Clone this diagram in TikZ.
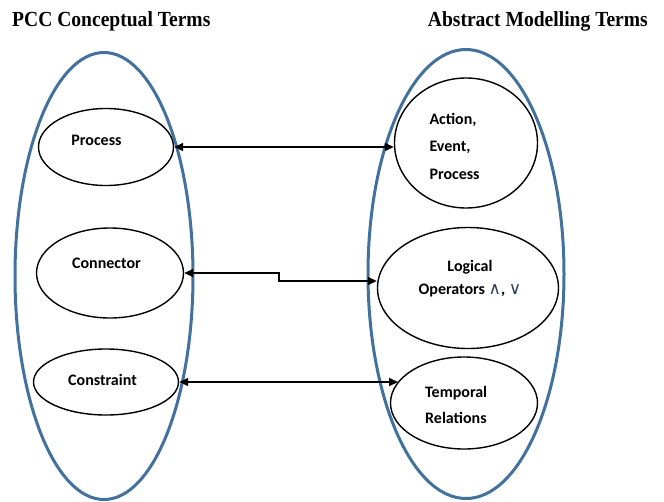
\documentclass[tikz,border=0pt]{standalone}
\usepackage{fontspec}
\usepackage{graphicx}
\setmainfont{Liberation Serif}
\newfontfamily\carlitofont{Carlito}
\newfontfamily\dejavufont{DejaVu Sans}
\usetikzlibrary{shapes.geometric,arrows.meta}
\definecolor{bigblue}{HTML}{41719C}
\definecolor{opblue}{HTML}{2E3D5C}
\newcommand{\optext}[1]{{\dejavufont\mdseries\fontsize{17}{23}\selectfont\color{opblue}#1}}
\tikzset{
  bigell/.style={draw=bigblue,line width=3pt,ellipse,inner sep=0pt},
  smallell/.style={draw=black,line width=1.4pt,ellipse,inner sep=0pt},
  title/.style={font=\fontsize{21.5}{24}\selectfont\bfseries,inner sep=0pt},
  txt/.style={font=\carlitofont\fontsize{16}{19}\selectfont\bfseries,inner sep=0pt},
  link/.style={line width=1.5pt,{Triangle[length=9pt,width=8pt]}-{Triangle[length=9pt,width=8pt]}}
}
\begin{document}
\begin{tikzpicture}[x=1pt,y=-1pt]
\useasboundingbox (0,0) rectangle (664,501);
% titles
\node[title,anchor=base west] (t1) at (12,26) {\scalebox{0.91}[1]{PCC Conceptual Terms}};
\node[title,anchor=base east] (t2) at (648,26) {\scalebox{0.91}[1]{Abstract Modelling Terms}};
% big ellipses
\node[bigell,minimum width=178pt,minimum height=447pt] (L) at (104,276) {};
\node[bigell,minimum width=196pt,minimum height=449pt] (R) at (466,274) {};
% left small ellipses
\node[smallell,minimum width=135pt,minimum height=77pt] (pe) at (106,147) {};
\node[smallell,minimum width=147pt,minimum height=90pt] (ce) at (110,273) {};
\node[smallell,minimum width=145pt,minimum height=66pt] (ke) at (106,382) {};
% right small ellipses
\node[smallell,minimum width=143pt,minimum height=130pt] (ae) at (466,143) {};
\node[smallell,minimum width=181pt,minimum height=121pt] (le) at (468,288) {};
\node[smallell,minimum width=147pt,minimum height=92pt] (te) at (464,403) {};
% texts
\node[txt] (ptx) at (96.5,140) {Process};
\node[txt] (ctx) at (106.5,263) {Connector};
\node[txt] (ktx) at (102.5,380) {Constraint};
\node[txt,align=left,anchor=west,font=\carlitofont\fontsize{16}{27.5}\selectfont\bfseries] (atx) at (429.3,146) {Action,\\Event,\\Process};
\node[txt,align=center,font=\carlitofont\fontsize{16}{23}\selectfont\bfseries] (ltx) at (470,279) {Logical\\Operators \optext{∧}, \optext{∨}};
\node[txt,align=left,anchor=west,font=\carlitofont\fontsize{16}{26}\selectfont\bfseries] (ttx) at (425,405) {Temporal\\Relations};
% connectors
\coordinate (k1) at (279,273);
\coordinate (k2) at (279,281);
\draw[link] (pe.east) -- (pe.east -| ae.west);
\draw[link] (ce.east) -- (k1) -- (k2) -- (k2 -| le.west);
\draw[link] (ke.east) -- (ke.east -| te.162);
\end{tikzpicture}
\end{document}
